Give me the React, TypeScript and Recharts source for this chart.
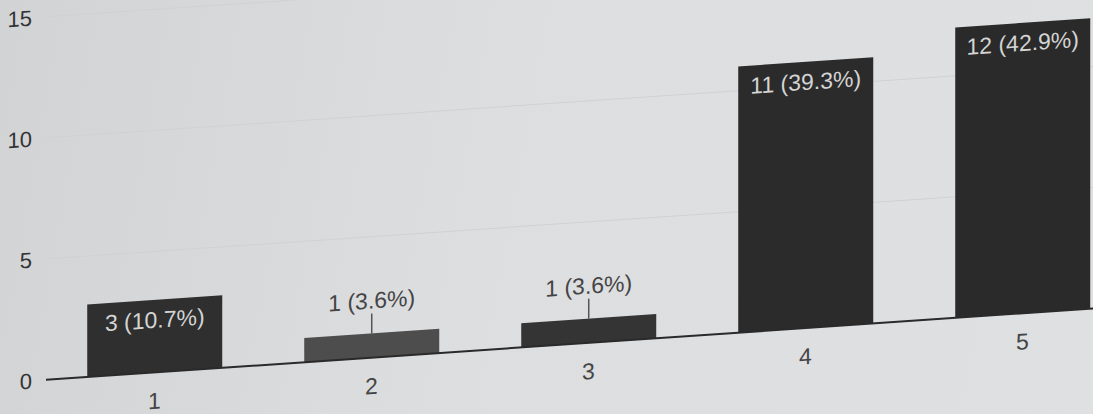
import React, { FC } from 'react';
import { BarChart, Bar, XAxis, YAxis, CartesianGrid, LabelList, Cell } from 'recharts';

const categories = ['1', '2', '3', '4', '5'];
const counts = [3, 1, 1, 11, 12];
const percents = ['10.7%', '3.6%', '3.6%', '39.3%', '42.9%'];
const yTicks = [0, 5, 10, 15];

const barColors = ['#2f2f2f', '#4d4d4d', '#343434', '#2b2b2b', '#2a2a2a'];
const font = '"Liberation Sans", Arial, sans-serif';

const data = categories.map((c, i) => ({
    name: c,
    value: counts[i],
    label: `${counts[i]} (${percents[i]})`,
}));

const BarLabel: FC<any> = ({ x, y, width, height, value }) => {
    const cx = x + width / 2;
    if (height > 40) {
        return (
            <text x={cx} y={y + 20} dy="0.35em" textAnchor="middle" fill="#d4d4d4" fontSize={23} fontFamily={font}>
                {value}
            </text>
        );
    }
    return (
        <g>
            <line x1={cx} x2={cx} y1={y} y2={y - 20} stroke="#555" strokeWidth={1.5} />
            <text x={cx} y={y - 33} dy="0.35em" textAnchor="middle" fill="#444" fontSize={23} fontFamily={font}>
                {value}
            </text>
        </g>
    );
};

const App: FC = () => {
    return (
        <div
            style={{
                position: 'absolute',
                left: 0,
                top: 0,
                width: 1093,
                height: 414,
                overflow: 'hidden',
                background: 'linear-gradient(100deg, #d2d3d5 0%, #dddee0 45%, #dfe0e2 100%)',
            }}
        >
            <div style={{ transform: 'skewY(-3.9deg)', transformOrigin: '0 0', width: 1135, height: 423 }}>
                <BarChart
                    width={1135}
                    height={423}
                    data={data}
                    margin={{ top: 20, right: 4, left: 0, bottom: 0 }}
                    barCategoryGap="19%"
                >
                    <CartesianGrid vertical={false} stroke="#d0d1d3" />
                    <YAxis
                        width={46}
                        domain={[0, 15]}
                        ticks={yTicks}
                        axisLine={false}
                        tickLine={false}
                        tickMargin={8}
                        tick={{ fill: '#333', fontSize: 22, fontFamily: font }}
                    />
                    <XAxis
                        dataKey="name"
                        height={40}
                        tickLine={false}
                        tickMargin={14}
                        axisLine={{ stroke: '#2a2a2a', strokeWidth: 2 }}
                        tick={{ fill: '#444', fontSize: 23, fontFamily: font }}
                    />
                    <Bar dataKey="value" isAnimationActive={false}>
                        {data.map((d, i) => (
                            <Cell key={d.name} fill={barColors[i]} />
                        ))}
                        <LabelList dataKey="label" content={<BarLabel />} />
                    </Bar>
                </BarChart>
            </div>
        </div>
    );
};

export default App;
